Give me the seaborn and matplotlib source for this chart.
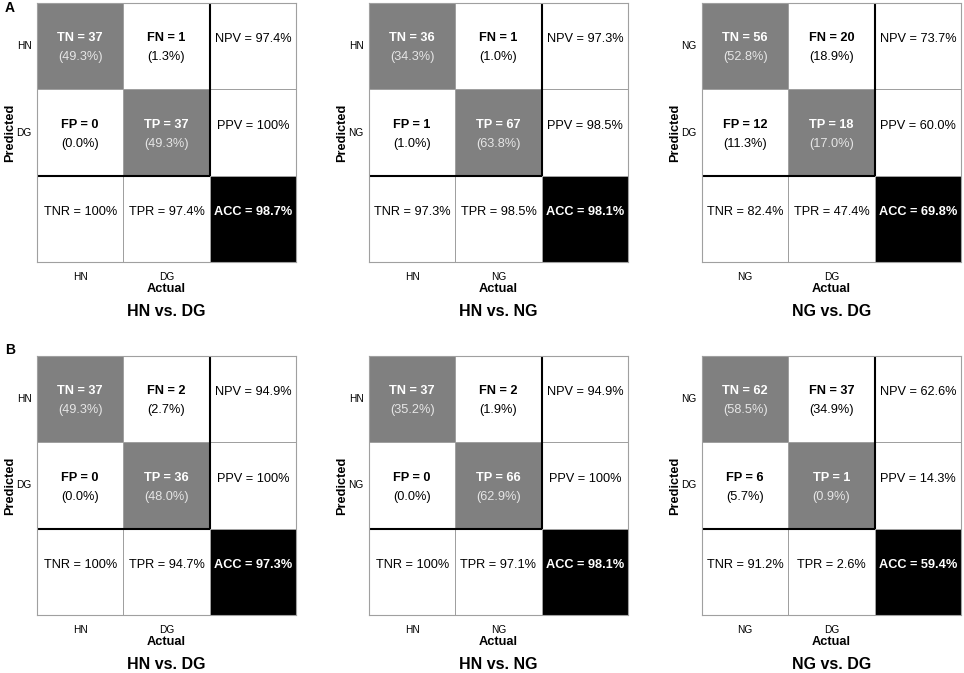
import numpy as np
import matplotlib
matplotlib.use('Agg')
import matplotlib.pyplot as plt
import seaborn as sns
from matplotlib.colors import ListedColormap

# one entry per panel: row A (top) then row B (bottom)
neg_labels = ['HN', 'HN', 'NG', 'HN', 'HN', 'NG']
pos_labels = ['DG', 'NG', 'DG', 'DG', 'NG', 'DG']
titles = ['HN vs. DG', 'HN vs. NG', 'NG vs. DG', 'HN vs. DG', 'HN vs. NG', 'NG vs. DG']
tn = [37, 36, 56, 37, 37, 62]
fn = [1, 1, 20, 2, 2, 37]
fp = [0, 1, 12, 0, 0, 6]
tp = [37, 67, 18, 36, 66, 1]
tn_pct = ['49.3%', '34.3%', '52.8%', '49.3%', '35.2%', '58.5%']
fn_pct = ['1.3%', '1.0%', '18.9%', '2.7%', '1.9%', '34.9%']
fp_pct = ['0.0%', '1.0%', '11.3%', '0.0%', '0.0%', '5.7%']
tp_pct = ['49.3%', '63.8%', '17.0%', '48.0%', '62.9%', '0.9%']
npv = ['97.4%', '97.3%', '73.7%', '94.9%', '94.9%', '62.6%']
ppv = ['100%', '98.5%', '60.0%', '100%', '100%', '14.3%']
tnr = ['100%', '97.3%', '82.4%', '100%', '100%', '91.2%']
tpr = ['97.4%', '98.5%', '47.4%', '94.7%', '97.1%', '2.6%']
acc = ['98.7%', '98.1%', '69.8%', '97.3%', '98.1%', '59.4%']

# cell shading: 0 white, 1 gray (TN/TP), 2 black (ACC)
shade = np.array([[1, 0, 0], [0, 1, 0], [0, 0, 2]])
cmap = ListedColormap(['white', '#808080', 'black'])

plt.rcParams['font.family'] = ['Liberation Sans', 'DejaVu Sans']

fig = plt.figure(figsize=(9.64, 6.73), dpi=100)
W, H = 964, 673
lefts = [37, 369, 702]
tops = [3, 356]
size = 259
fs = 9.2

for i in range(6):
    r, c = divmod(i, 3)
    ax = fig.add_axes([lefts[c] / W, 1 - (tops[r] + size) / H, size / W, size / H])
    sns.heatmap(shade, cmap=cmap, vmin=0, vmax=2, cbar=False, annot=False,
                linewidths=0.6, linecolor='#a0a0a0', ax=ax)
    for s in ax.spines.values():
        s.set_visible(True)
        s.set_color('#a0a0a0')
        s.set_linewidth(0.8)
    # thick separators
    ax.plot([2, 2], [0, 2], color='black', lw=1.5, solid_capstyle='butt')
    ax.plot([0, 2], [2, 2], color='black', lw=1.5, solid_capstyle='butt')

    cells = [
        (0, 0, f'TN = {tn[i]}', f'({tn_pct[i]})', 'white', '#e6e6e6'),
        (1, 0, f'FN = {fn[i]}', f'({fn_pct[i]})', 'black', 'black'),
        (0, 1, f'FP = {fp[i]}', f'({fp_pct[i]})', 'black', 'black'),
        (1, 1, f'TP = {tp[i]}', f'({tp_pct[i]})', 'white', '#e6e6e6'),
    ]
    for x, y, t1, t2, c1, c2 in cells:
        ax.text(x + 0.5, y + 0.41, t1, ha='center', va='center', fontsize=fs,
                fontweight='bold', color=c1)
        ax.text(x + 0.5, y + 0.63, t2, ha='center', va='center', fontsize=fs,
                color=c2)
    ax.text(2.5, 0.42, f'NPV = {npv[i]}', ha='center', va='center', fontsize=fs)
    ax.text(2.5, 1.42, f'PPV = {ppv[i]}', ha='center', va='center', fontsize=fs)
    ax.text(0.5, 2.42, f'TNR = {tnr[i]}', ha='center', va='center', fontsize=fs)
    ax.text(1.5, 2.42, f'TPR = {tpr[i]}', ha='center', va='center', fontsize=fs)
    ax.text(2.5, 2.42, f'ACC = {acc[i]}', ha='center', va='center', fontsize=fs,
            fontweight='bold', color='white')

    ax.set_xticks([0.5, 1.5])
    ax.set_xticklabels([neg_labels[i], pos_labels[i]], fontsize=7.3)
    ax.set_yticks([0.5, 1.5])
    ax.set_yticklabels([neg_labels[i], pos_labels[i]], fontsize=7.3, rotation=0)
    ax.tick_params(length=0, pad=7)
    ax.tick_params(axis='y', pad=4)
    ax.set_xlabel('')
    ax.set_ylabel('')
    ax.text(0.5, -0.104, 'Actual', transform=ax.transAxes, ha='center', va='center',
            fontsize=fs, fontweight='bold')
    ax.text(-0.104, 0.5, 'Predicted', transform=ax.transAxes, ha='center', va='center',
            rotation=90, fontsize=fs, fontweight='bold')
    ax.text(0.5, -0.193, titles[i], transform=ax.transAxes, ha='center', va='center',
            fontsize=11.5, fontweight='bold')

fig.text(10 / W, 1 - 8 / H, 'A', ha='center', va='center', fontsize=10, fontweight='bold')
fig.text(10 / W, 1 - 350 / H, 'B', ha='center', va='center', fontsize=10, fontweight='bold')

fig.savefig('out.png', dpi=100)
